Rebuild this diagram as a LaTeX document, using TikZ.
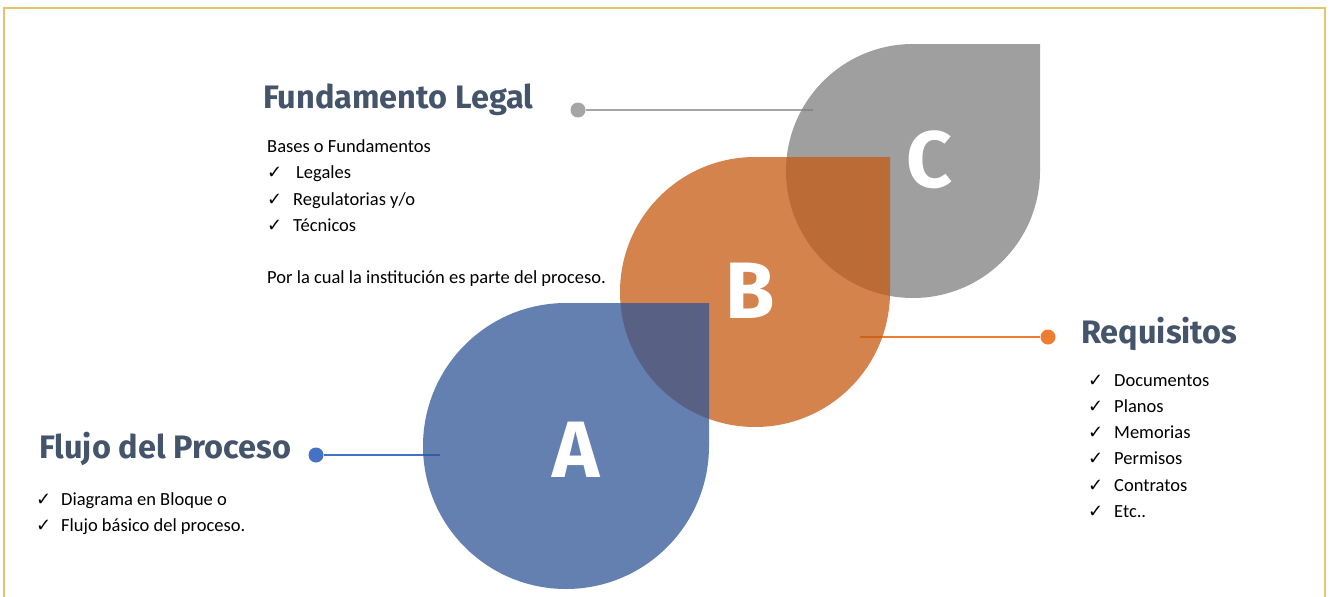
\documentclass[tikz,border=0pt]{standalone}
\usepackage{fontspec}
\setmainfont{Carlito}
\newfontfamily\headfont{Fira Sans}
\newfontfamily\symfont{DejaVu Sans}

\definecolor{slate}{HTML}{44546A}
\definecolor{dropblue}{HTML}{2F5597}
\definecolor{droporange}{HTML}{C55A11}
\definecolor{dropgray}{HTML}{7F7F7F}
\definecolor{linegray}{HTML}{A5A5A5}
\definecolor{lineorange}{HTML}{ED7D31}
\definecolor{lineblue}{HTML}{4472C4}
\definecolor{gold}{HTML}{E6C46C}

\tikzstyle{frame}=[draw=gold,line width=1.5pt]
\tikzstyle{heading}=[anchor=base west,inner sep=0pt,text=slate,font=\headfont\bfseries\fontsize{32.5}{32.5}\selectfont]
\tikzstyle{item}=[anchor=base west,inner sep=0pt,font=\fontsize{18.5}{18.5}\selectfont]
\tikzstyle{tick}=[anchor=base west,inner sep=0pt,font=\symfont\fontsize{18}{18}\selectfont]
\tikzstyle{letter}=[inner sep=0pt,text=white,font=\headfont\bfseries\fontsize{80}{80}\selectfont]
\tikzstyle{dot}=[circle,minimum size=15pt,inner sep=0pt]
\tikzstyle{leader}=[line width=2pt]

\begin{document}
\begin{tikzpicture}[x=1pt,y=-1pt]
\useasboundingbox (0,0) rectangle (1331,597);
\draw[frame] (4,597) -- (4,8) -- (1325,8) -- (1325,597);

% dots and their lines, behind the drops
\foreach \name/\dx/\ex/\ly/\col in {legal/578/813/110/linegray,
                                   req/1048/860/337/lineorange,
                                   flow/316/440/455/lineblue}{
  \node[dot,fill=\col] (\name dot) at (\dx,\ly) {};
  \coordinate (\name stop) at (\ex,\ly);
  \draw[leader,draw=\col] (\name dot) -- (\name stop);
}

% the three drops
\foreach \name/\cx/\cy/\r/\col/\lx/\ly in {C/913/171/127/dropgray/929/160,
                                         B/755/292/135/droporange/750/291,
                                         A/566/446/143/dropblue/576/450}{
  \fill[\col,fill opacity=0.75] (\cx+\r,\cy-\r) -- (\cx+\r,\cy)
    arc[start angle=0,end angle=270,radius=\r] -- cycle;
  \node[letter] (\name) at (\lx,\ly) {\name};
}

% Fundamento Legal
\node[heading] (legal) at (263,108) {Fundamento Legal};
\node[item] (legal0) at (267,152) {Bases o Fundamentos};
\foreach \i/\x/\y/\txt in {1/296/178/Legales, 2/293/205/{Regulatorias y/o}, 3/293/231/Técnicos}{
  \node[tick] (legaltick\i) at (267,\y) {✓};
  \node[item] (legal\i) at (\x,\y) {\txt};
}
\node[item] (legal4) at (267,283) {Por la cual la institución es parte del proceso.};

% Requisitos
\node[heading] (req) at (1081,343) {Requisitos};
\foreach \i/\y/\txt in {1/386/Documentos, 2/412.5/Planos, 3/438.5/Memorias,
                        4/464.5/Permisos, 5/491/Contratos, 6/517.5/Etc..}{
  \node[tick] (reqtick\i) at (1088,\y) {✓};
  \node[item] (req\i) at (1114,\y) {\txt};
}

% Flujo del Proceso
\node[heading] (flow) at (39,458) {Flujo del Proceso};
\foreach \i/\y/\txt in {1/505/Diagrama en Bloque o, 2/531/Flujo básico del proceso.}{
  \node[tick] (flowtick\i) at (36,\y) {✓};
  \node[item] (flow\i) at (61,\y) {\txt};
}
\end{tikzpicture}
\end{document}
